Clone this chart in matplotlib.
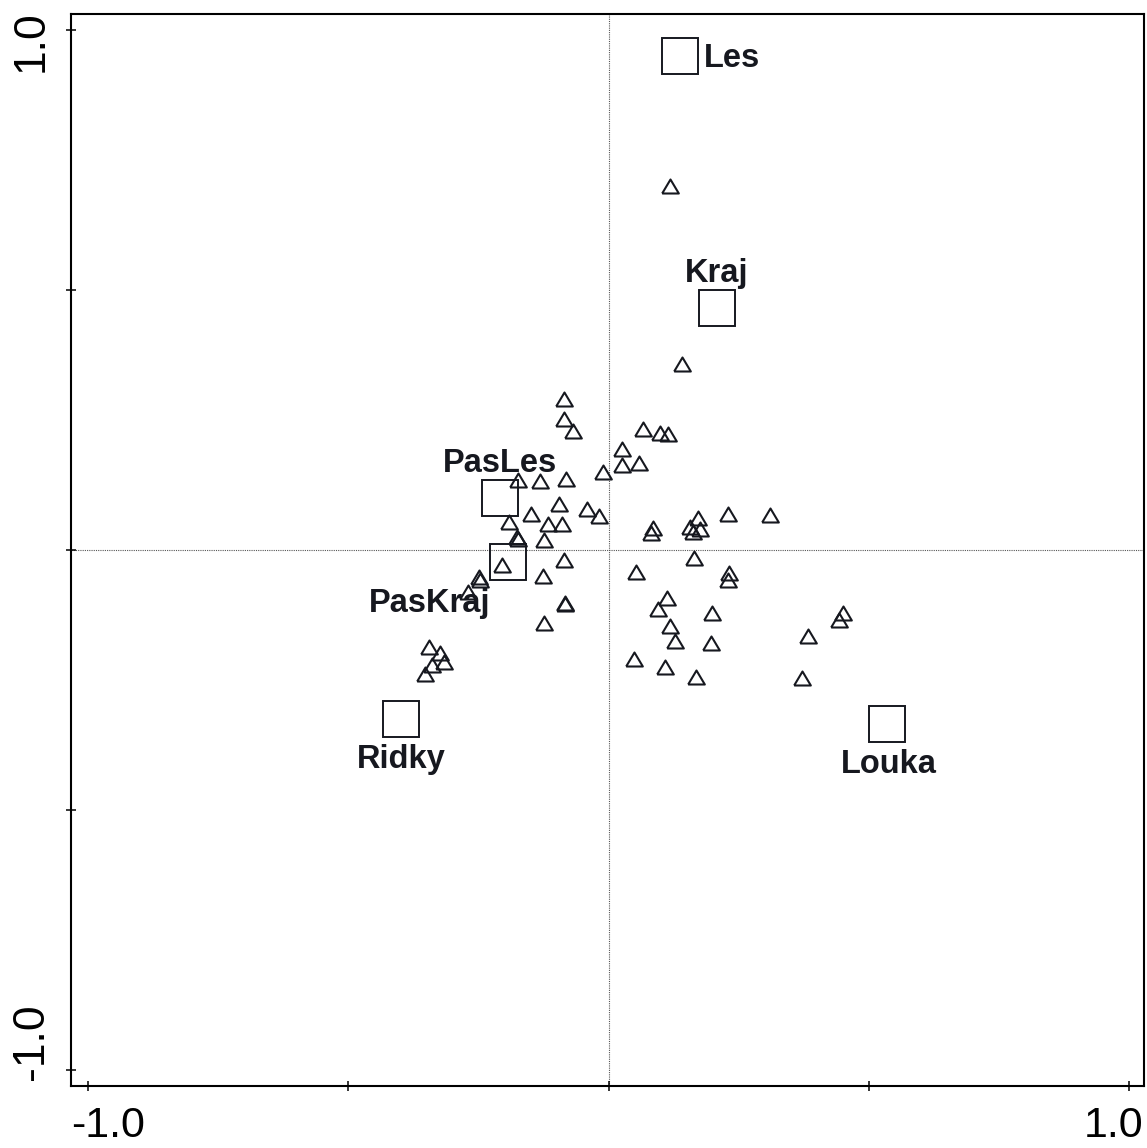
import matplotlib
matplotlib.use("Agg")
from matplotlib import pyplot as plt

plt.rcParams['font.family'] = ['Liberation Sans', 'DejaVu Sans']

# species scores (triangles)
sp_x = [-0.085, -0.085, -0.068, 0.066, 0.098, 0.114, 0.025, 0.025, 0.058, -0.011,
		-0.175, -0.132, -0.082, -0.096, -0.041, -0.018, -0.150, -0.116, -0.090, -0.192,
		-0.176, -0.174, -0.124, -0.204, -0.085, -0.127, -0.249, -0.247, -0.271, -0.084,
		-0.084, -0.125, -0.345, -0.324, -0.317, -0.340, -0.353, 0.086, 0.082, 0.171,
		0.157, 0.176, 0.163, 0.229, 0.310, 0.164, 0.053, 0.232, 0.230, 0.113,
		0.095, 0.199, 0.118, 0.127, 0.196, 0.049, 0.109, 0.168, 0.383, 0.371,
		0.450, 0.442, 0.118, 0.141]
sp_y = [0.289, 0.251, 0.228, 0.233, 0.225, 0.222, 0.193, 0.164, 0.166, 0.149,
		0.134, 0.133, 0.137, 0.089, 0.079, 0.065, 0.068, 0.049, 0.049, 0.054,
		0.024, 0.020, 0.019, -0.030, -0.020, -0.050, -0.053, -0.058, -0.081, -0.103,
		-0.104, -0.141, -0.186, -0.199, -0.215, -0.222, -0.238, 0.042, 0.033, 0.062,
		0.044, 0.041, 0.034, 0.069, 0.067, -0.015, -0.043, -0.045, -0.058, -0.093,
		-0.114, -0.122, -0.146, -0.175, -0.180, -0.209, -0.225, -0.244, -0.166, -0.246,
		-0.122, -0.135, 0.699, 0.357]

# environmental class centroids (squares)
env_names = ['Les', 'Kraj', 'PasLes', 'PasKraj', 'Ridky', 'Louka']
env_x = [0.137, 0.208, -0.208, -0.193, -0.398, 0.535]
env_y = [0.950, 0.464, 0.099, -0.023, -0.326, -0.335]

# label placement for each centroid: (dx, dy) in points, horizontal alignment
lab_pos = {
	'Les': (17, -8, 'left'),
	'Kraj': (0, 19, 'center'),
	'PasLes': (0, 19, 'center'),
	'PasKraj': (-56.5, -36, 'center'),
	'Ridky': (0, -35, 'center'),
	'Louka': (1.5, -35, 'center'),
}

ink = '#16181f'

fig = plt.figure(figsize=(11.47, 11.48), dpi=100)
ax = fig.add_axes([0.0623, 0.0543, 0.9971 - 0.0623, 0.9878 - 0.0543])

ax.axhline(0, color='#555555', lw=0.8, ls=(0, (1, 1)), zorder=1)
ax.axvline(0, color='#555555', lw=0.8, ls=(0, (1, 1)), zorder=1)

tri = [(-0.5, -0.42), (0.5, -0.42), (0, 0.42), (-0.5, -0.42)]
ax.plot(sp_x, sp_y, ls='none', marker=tri, markersize=12, markerfacecolor='none',
		markeredgecolor=ink, markeredgewidth=1.5, zorder=3)

ax.plot(env_x, env_y, ls='none', marker='s', markersize=26, markerfacecolor='none',
		markeredgecolor=ink, markeredgewidth=1.4, zorder=2)

for name, x, y in zip(env_names, env_x, env_y):
	dx, dy, ha = lab_pos[name]
	ax.annotate(name, (x, y), xytext=(dx, dy), textcoords='offset points',
				ha=ha, va='baseline', fontsize=23.5, fontweight='bold', color=ink, zorder=4)

ax.set_xlim(-1.032, 1.028)
ax.set_ylim(-1.030, 1.030)
ticks = [-1.0, -0.5, 0.0, 0.5, 1.0]
ax.set_xticks(ticks)
ax.set_yticks(ticks)
ax.tick_params(direction='inout', length=7.2, width=1.1, color='black',
			   labelbottom=False, labelleft=False)
for s in ax.spines.values():
	s.set_linewidth(1.5)

# axis end labels only
ax.annotate('-1.0', (0, 0), xycoords='axes fraction', xytext=(0, -37),
			textcoords='offset points', ha='left', va='baseline', fontsize=31)
ax.annotate('1.0', (1, 0), xycoords='axes fraction', xytext=(0, -37),
			textcoords='offset points', ha='right', va='baseline', fontsize=31)
ax.annotate('1.0', (0, 1), xycoords='axes fraction', xytext=(-14, 3),
			textcoords='offset points', ha='right', va='top', fontsize=32, rotation=90)
ax.annotate('-1.0', (0, 0), xycoords='axes fraction', xytext=(-14, 4),
			textcoords='offset points', ha='right', va='bottom', fontsize=32, rotation=90)

fig.savefig('out.png', dpi=100)
